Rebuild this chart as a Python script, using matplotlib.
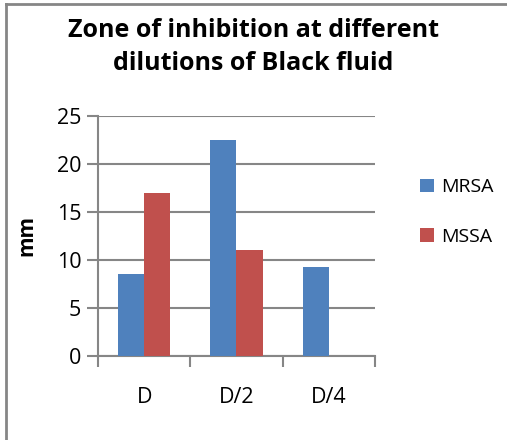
import matplotlib.pyplot as plt
import numpy as np
from matplotlib.lines import Line2D

plt.rcParams['font.family'] = ['Open Sans', 'DejaVu Sans']

# data
categories = ["D", "D/2", "D/4"]
mrsa = [8.5, 22.5, 9.3]
mssa = [17, 11, 0]

blue = "#4f81bd"
red = "#c0504d"
grey = "#868686"

fig = plt.figure(figsize=(5.07, 4.40), dpi=100)
ax = fig.add_axes([0.1933, 0.1909, 0.5463, 0.5455])

x = np.arange(len(categories))
w = 0.285
ax.bar(x - w / 2, mrsa, w, color=blue, label="MRSA", zorder=3)
ax.bar(x + w / 2, mssa, w, color=red, label="MSSA", zorder=3)

ax.set_xlim(-0.5, 2.5)
ax.set_ylim(0, 25)
ax.set_yticks(range(0, 26, 5))
ax.yaxis.grid(True, color=grey, linewidth=1.5, zorder=0)

# category ticks sit on the boundaries, labels in the middle
ax.set_xticks([-0.5, 0.5, 1.5, 2.5])
ax.set_xticklabels([])
ax.set_xticks(x, minor=True)
ax.set_xticklabels(categories, minor=True)
ax.tick_params(axis="x", which="minor", length=0, pad=22, labelsize=15.5)
ax.tick_params(axis="x", which="major", length=8, width=1.5, color=grey)
ax.tick_params(axis="y", length=8, width=1.5, color=grey, labelsize=15.5, pad=4)

for s in ["top", "right"]:
    ax.spines[s].set_visible(False)
for s in ["left", "bottom"]:
    ax.spines[s].set_color(grey)
    ax.spines[s].set_linewidth(1.5)

ax.set_ylabel("mm", fontsize=15, fontweight="bold", labelpad=14)

fig.text(0.5, 0.893, "Zone of inhibition at different\ndilutions of Black fluid",
         ha="center", va="center", fontsize=18, fontweight="bold", linespacing=1.4)

leg = ax.legend(loc="center left", bbox_to_anchor=(1.1, 0.6), frameon=False,
                fontsize=14, handlelength=0.7, handleheight=0.7, handletextpad=0.4,
                labelspacing=1.6)

# chart frame (left and top edges visible)
fig.add_artist(Line2D([0.012, 0.012], [0, 0.991], color=grey, linewidth=2,
                      transform=fig.transFigure))
fig.add_artist(Line2D([0.012, 1], [0.991, 0.991], color=grey, linewidth=2,
                      transform=fig.transFigure))

fig.savefig("out.png", dpi=100)
